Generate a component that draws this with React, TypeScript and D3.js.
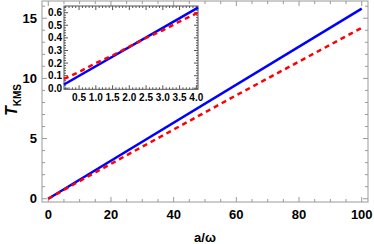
import React from 'react';
import * as d3 from 'd3';

// main plot data (a/omega vs T_KMS)
const mainA = [0, 100];
const mainBlue = [0, 15.8];
const mainRedA = [0, 10, 20, 40, 60, 80, 100];
const mainRed = [0, 1.47, 2.9, 5.75, 8.6, 11.4, 14.2];

// inset data
const insetA = [0.05, 4.05];
const insetBlue = [0.03, 0.64];
const insetRedA = [0.05, 0.5, 1, 1.5, 2, 2.5, 3, 3.5, 4.05];
const insetRed = [0.074, 0.13, 0.2, 0.26, 0.33, 0.4, 0.46, 0.53, 0.6];

const xTicks = [0, 20, 40, 60, 80, 100];
const yTicks = [0, 5, 10, 15];
const insetXTicks = [0.5, 1.0, 1.5, 2.0, 2.5, 3.0, 3.5, 4.0];
const insetYTicks = [0, 0.1, 0.2, 0.3, 0.4, 0.5, 0.6];

const W = 374, H = 244;
const font = "'Liberation Sans', Arial, sans-serif";

export default function App() {
  const x = d3.scaleLinear().domain([-2, 102]).range([42, 368]);
  const y = d3.scaleLinear().domain([-0.27, 16.43]).range([202, 1]);
  const ix = d3.scaleLinear().domain([0.05, 4.05]).range([64, 198]);
  const iy = d3.scaleLinear().domain([-0.008, 0.653]).range([89.3, 6]);

  const mLine = d3.line<[number, number]>().x(d => x(d[0])).y(d => y(d[1]));
  const iLine = d3.line<[number, number]>().x(d => ix(d[0])).y(d => iy(d[1]));

  const zip = (a: number[], b: number[]) => a.map((v, i) => [v, b[i]] as [number, number]);

  const frameCol = '#9a9a9a';
  const [x0, x1] = x.range();
  const [y0, y1] = y.range();
  const [ix0, ix1] = ix.range();
  const [iy0, iy1] = iy.range();

  const xMinor = d3.range(0, 101, 5).filter(v => v % 20 !== 0);
  const yMinor = d3.range(0, 16.5, 1).filter(v => v % 5 !== 0);
  const ixMinor = d3.range(0.1, 4.05, 0.1).filter(v => Math.abs(v * 2 - Math.round(v * 2)) > 0.01);
  const iyMinor = d3.range(0.02, 0.65, 0.02).filter(v => Math.abs(v * 10 - Math.round(v * 10)) > 0.01);

  return (
    <svg width={W} height={H} style={{ position: 'absolute', left: 0, top: 0, background: '#fff' }}>
      {/* main frame */}
      <rect x={x0} y={y1} width={x1 - x0} height={y0 - y1} fill="none" stroke={frameCol} strokeWidth={1} />
      {xTicks.map(t => (
        <g key={'xt' + t}>
          <line x1={x(t)} x2={x(t)} y1={y0} y2={y0 - 5} stroke={frameCol} />
          <line x1={x(t)} x2={x(t)} y1={y1} y2={y1 + 5} stroke={frameCol} />
          <text x={x(t)} y={y0 + 16.5} textAnchor="middle" fontFamily={font} fontWeight="bold" fontSize={13}>{t}</text>
        </g>
      ))}
      {xMinor.map(t => (
        <g key={'xm' + t}>
          <line x1={x(t)} x2={x(t)} y1={y0} y2={y0 - 3} stroke={frameCol} />
          <line x1={x(t)} x2={x(t)} y1={y1} y2={y1 + 3} stroke={frameCol} />
        </g>
      ))}
      {yTicks.map(t => (
        <g key={'yt' + t}>
          <line x1={x0} x2={x0 + 5} y1={y(t)} y2={y(t)} stroke={frameCol} />
          <line x1={x1} x2={x1 - 5} y1={y(t)} y2={y(t)} stroke={frameCol} />
          <text x={37} y={y(t) + 4.5} textAnchor="end" fontFamily={font} fontWeight="bold" fontSize={13}>{t}</text>
        </g>
      ))}
      {yMinor.map(t => (
        <g key={'ym' + t}>
          <line x1={x0} x2={x0 + 3} y1={y(t)} y2={y(t)} stroke={frameCol} />
          <line x1={x1} x2={x1 - 3} y1={y(t)} y2={y(t)} stroke={frameCol} />
        </g>
      ))}

      {/* main curves */}
      <path d={mLine(zip(mainA, mainBlue)) || ''} fill="none" stroke="#0000ff" strokeWidth={2.5} />
      <path d={mLine(zip(mainRedA, mainRed)) || ''} fill="none" stroke="#ff0000" strokeWidth={2.5} strokeDasharray="5,4" />

      {/* axis labels */}
      <text x={205} y={242} textAnchor="middle" fontFamily={font} fontWeight="bold" fontSize={13}>a/ω</text>
      <text transform="translate(17,100) rotate(-90)" textAnchor="middle" fontFamily={font} fontWeight="bold">
        <tspan fontSize={16} fontStyle="italic">T</tspan>
        <tspan fontSize={10} dy={4}>KMS</tspan>
      </text>

      {/* inset */}
      <rect x={ix0} y={iy1} width={ix1 - ix0} height={iy0 - iy1} fill="#fff" stroke="#555" strokeWidth={1} />
      {insetXTicks.map(t => (
        <g key={'ixt' + t}>
          <line x1={ix(t)} x2={ix(t)} y1={iy0} y2={iy0 - 4} stroke="#555" />
          <line x1={ix(t)} x2={ix(t)} y1={iy1} y2={iy1 + 4} stroke="#555" />
          <text x={ix(t)} y={iy0 + 12} textAnchor="middle" fontFamily={font} fontWeight="bold" fontSize={10}>{t.toFixed(1)}</text>
        </g>
      ))}
      {ixMinor.map(t => (
        <g key={'ixm' + t}>
          <line x1={ix(t)} x2={ix(t)} y1={iy0} y2={iy0 - 2} stroke="#555" />
          <line x1={ix(t)} x2={ix(t)} y1={iy1} y2={iy1 + 2} stroke="#555" />
        </g>
      ))}
      {insetYTicks.map(t => (
        <g key={'iyt' + t}>
          <line x1={ix0} x2={ix0 + 4} y1={iy(t)} y2={iy(t)} stroke="#555" />
          <line x1={ix1} x2={ix1 - 4} y1={iy(t)} y2={iy(t)} stroke="#555" />
          <text x={ix0 - 2} y={iy(t) + 3.5} textAnchor="end" fontFamily={font} fontWeight="bold" fontSize={10}>{t.toFixed(1)}</text>
        </g>
      ))}
      {iyMinor.map(t => (
        <g key={'iym' + t}>
          <line x1={ix0} x2={ix0 + 2} y1={iy(t)} y2={iy(t)} stroke="#555" />
          <line x1={ix1} x2={ix1 - 2} y1={iy(t)} y2={iy(t)} stroke="#555" />
        </g>
      ))}
      <path d={iLine(zip(insetA, insetBlue)) || ''} fill="none" stroke="#0000ff" strokeWidth={2.5} />
      <path d={iLine(zip(insetRedA, insetRed)) || ''} fill="none" stroke="#ff0000" strokeWidth={2.5} strokeDasharray="5,4" />
    </svg>
  );
}
